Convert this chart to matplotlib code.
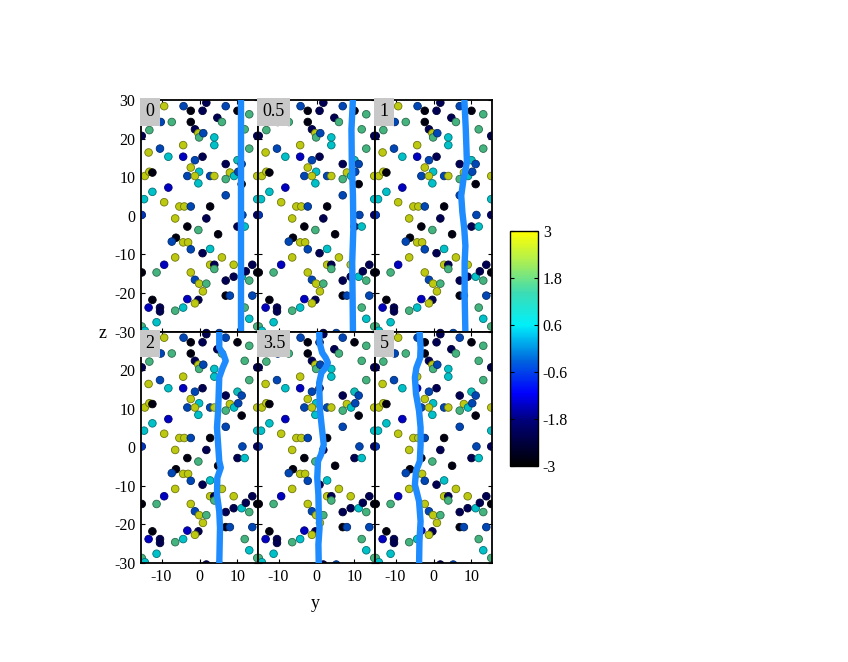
import numpy as np
import matplotlib
matplotlib.use("Agg")
import matplotlib.pyplot as plt
from matplotlib.colors import LinearSegmentedColormap, Normalize
from matplotlib.cm import ScalarMappable

plt.rcParams['font.family'] = ['Liberation Serif', 'DejaVu Serif']
plt.rcParams['axes.unicode_minus'] = False

# particelle: posizione (y, z) e valore del colore
pts_y = [-9.3, -4.2, -2.3, 0.8, 1.8, 6.9, 10.0, 13.1, -15.2, 15.2, -10.2, -7.3, -13.2, -2.3,
         -1.2, -0.3, -0.1, 1.0, 4.7, 5.9, 3.9, 3.9, 11.9, 13.1, -4.3, -13.4, -10.4, -8.2,
         -4.3, -1.2, 0.8, 10.0, 11.1, 6.9, -14.4, -13.2, -12.4, -2.3, -0.1, -3.2, -1.2, 2.8,
         3.9, 8.0, 9.1, 6.9, 10.2, 15.2, -0.3, -8.2, -12.4, -14.6, 15.2, -9.3, -5.3, -4.0,
         -2.3, 2.8, 6.9, 11.1,
         -15.2, 15.2, -6.4, 1.8, -3.2, -0.3, 4.9, -6.2, -7.3, -4.3, -3.0, -2.3, 2.8, 0.8,
         5.9, -6.4, -9.3, 2.8, 3.9, 3.9, 9.0, 13.9, -15.2, 15.2, -11.3, -2.3, -1.2, -0.1,
         1.8, 0.9, 6.9, 9.0, 11.1, 12.2, 13.1, 6.9, 8.0, 13.9, -3.2, -0.3, -1.2, -12.4,
         -13.4, -10.4, -10.4, -4.3, -6.4, 11.9, -11.3, 13.1, -15.2, 15.2, -14.4, 1.8, 5.2,
         10.0, 11.9, 11.3]
pts_z = [28.4, 28.4, 27.2, 27.2, 29.3, 28.4, 27.2, 26.3, 20.7, 20.7, 24.3, 24.3, 22.2, 24.3,
         22.4, 21.4, 20.3, 21.4, 25.4, 24.3, 20.3, 18.3, 22.4, 17.4, 18.3, 16.4, 17.4, 15.3,
         15.3, 14.4, 15.3, 14.4, 13.4, 13.4, 10.3, 11.4, 11.2, 12.5, 11.4, 10.3, 10.3, 10.3,
         10.3, 11.2, 10.3, 9.5, 11.4, 10.3, 8.4, 7.3, 6.2, 4.3, 4.3, 3.5, 2.4, 2.4,
         2.4, 2.4, 5.3, 8.2,
         0.2, 0.2, -0.7, -0.7, -2.8, -3.7, -4.8, -5.7, -6.7, -6.9, -6.9, -8.7, -8.6, -9.7,
         -10.8, -10.8, -12.7, -12.7, -12.7, -13.8, -12.7, -12.7, -14.7, -14.7, -14.7, -14.7, -16.6, -17.6,
         -17.6, -19.6, -16.8, -15.8, -15.8, -14.4, -16.8, -20.7, -20.7, -20.7, -21.6, -21.8, -22.7, -21.8,
         -23.8, -23.8, -24.8, -23.8, -24.6, -23.8, -27.6, -26.7, -28.7, -28.7, -29.8, -30.4, -30.4,
         -2.8, -2.8, 0.2]
pts_v = [2.8, -0.4, -2.8, -2.0, -2.0, -0.4, -2.8, 1.6, -2.0, -2.0, -0.4, 1.6, 1.6, -2.8,
         -2.0, 2.8, 1.6, -0.4, -2.0, 1.6, 0.6, 0.6, 1.6, 1.6, 2.8, 2.8, -0.4, 0.6,
         -1.2, -0.4, -2.0, 0.8, -0.4, -2.0, 2.8, 2.8, -2.8, 2.8, 0.6, -0.4, 2.8, -0.4,
         2.8, 2.8, 0.6, 1.6, -0.4, 2.8, 0.6, -1.2, 0.6, 0.6, 0.6, 2.8, 2.8, 2.8,
         -0.4, -2.8, -0.4, -2.8,
         -0.6, -1.8, 2.8, -2.0, -2.8, 1.6, -2.8, -2.8, -0.4, 2.8, 2.8, -0.4, 0.6, -2.0,
         2.8, 2.8, -1.2, 2.8, -2.0, 1.6, 2.8, -2.0, -2.8, -2.8, 1.6, 2.8, -0.4, 2.8,
         1.6, 2.8, -2.0, -2.0, 0.6, -2.0, 1.6, -2.8, -0.4, -0.4, -1.2, -2.0, 2.8, -2.8,
         -1.2, -2.0, -2.0, 0.6, 1.6, 1.6, 0.6, 0.6, 1.6, 1.6, 0.6, -2.0, -0.4,
         -2.0, 0.6, -0.4]

# linea di vortice ai vari tempi
tempi = ['0', '0.5', '1', '2', '3.5', '5']
linea_z = {
    '0': [30.5, 15, 0, -15, -30.5],
    '0.5': [30.5, 22.4, 13.8, 5.2, -3.4, -12.1, -20.7, -30.5],
    '1': [30.5, 22.4, 13.8, 9.5, 5.2, 0.9, -3.4, -7.8, -12.1, -20.7, -30.5],
    '2': [30.5, 25.8, 24.1, 22.4, 20.6, 18.1, 9.4, 5.1, -3.6, -5.3, -7.9, -12.3, -16.6, -20.9, -30.5],
    '3.5': [30.5, 27.1, 24.5, 23.2, 21.9, 20.6, 19.3, 16.7, 9.7, 0.7, -1.9, -3.6, -7.9, -12.3,
            -17.5, -20.9, -25.2, -30.5],
    '5': [30.5, 25.8, 23.2, 20.6, 18.1, 13.8, 9.4, 5.1, 0.7, -3.6, -6.2, -9.7, -14.0, -19.2,
          -24.3, -30.5],
}
linea_y = {
    '0': [11.0, 11.0, 11.0, 11.0, 11.0],
    '0.5': [9.6, 9.2, 9.3, 9.6, 9.7, 9.4, 9.5, 9.6],
    '1': [8.1, 8.5, 8.8, 7.9, 7.3, 7.6, 8.1, 8.4, 8.2, 8.2, 8.4],
    '2': [5.2, 5.2, 6.3, 6.9, 6.1, 5.2, 4.9, 4.6, 5.2, 5.6, 4.7, 4.6, 5.2, 5.4, 5.2],
    '3.5': [0.7, 0.8, 1.5, 2.4, 3.0, 2.4, 1.3, 0.7, 0.9, 1.9, 1.2, 0.4, 0.2, 0.5,
            0.6, 0.8, 0.5, 0.6],
    '5': [-3.7, -3.4, -3.5, -4.5, -4.9, -4.6, -3.8, -3.4, -3.4, -3.6, -4.6, -4.9, -3.8, -3.4,
          -3.7, -3.8],
}

colori = LinearSegmentedColormap.from_list('mappa', [
    (0.0, (0, 0, 0)), (0.19, (0, 0, 0.47)), (0.31, (0, 0, 1.0)), (0.45, (0, 0.4, 0.87)),
    (0.6, (0, 0.94, 0.98)), (0.74, (0.24, 0.86, 0.7)), (0.88, (0.7, 0.94, 0.3)), (1.0, (1, 1, 0))])
norma = Normalize(-3, 3)

fig = plt.figure(figsize=(8.48, 6.62), dpi=100)
W, H = 848, 662
x0, y0, pw, ph = 141, 100, 117, 231.5

# sfere un po' ombreggiate
pc = colori(norma(np.array(pts_v)))
pc[:, :3] *= 0.8
bordo = pc.copy()
bordo[:, :3] *= 0.6

for i, t in enumerate(tempi):
    r, c = divmod(i, 3)
    ax = fig.add_axes([(x0 + c * pw) / W, 1 - (y0 + (r + 1) * ph) / H, pw / W, ph / H])
    ax.scatter(pts_y, pts_z, s=30, c=pc, edgecolors=bordo, linewidths=0.6, zorder=2)
    ax.plot(linea_y[t], linea_z[t], color='#1e8cff', lw=4.6, zorder=3, solid_joinstyle='round')
    ax.set_xlim(-15.4, 15.4)
    ax.set_ylim(-30, 30)
    ax.set_xticks([-10, 0, 10])
    ax.set_yticks([-30, -20, -10, 0, 10, 20, 30])
    ax.tick_params(direction='in', length=3, top=True, right=True, labelsize=11.5,
                   labelbottom=(r == 1), labelleft=(c == 0), pad=4)
    if c == 0 and r == 1:
        ax.set_yticklabels(['-30', '-20', '-10', '0', '10', '20', ''])
    for s in ax.spines.values():
        s.set_linewidth(1.3)
    ax.text(0.04, 0.985, t, transform=ax.transAxes, ha='left', va='top', fontsize=13, zorder=5,
            bbox=dict(boxstyle='square,pad=0.3', facecolor='#c8c8c8', edgecolor='none'))

fig.text(103 / W, 1 - 333 / H, 'z', fontsize=13, ha='center', va='center')
fig.text(315 / W, 1 - 604 / H, 'y', fontsize=13, ha='center', va='center')

cax = fig.add_axes([510 / W, 1 - 466 / H, 28 / W, 235 / H])
cb = fig.colorbar(ScalarMappable(norm=norma, cmap=colori), cax=cax)
cb.set_ticks([-3, -1.8, -0.6, 0.6, 1.8, 3])
cb.set_ticklabels(['-3', '-1.8', '-0.6', '0.6', '1.8', '3'])
cax.tick_params(direction='in', length=3, left=True, right=True, labelsize=11.5)
cb.outline.set_linewidth(1)

plt.savefig('out.png', dpi=100)
